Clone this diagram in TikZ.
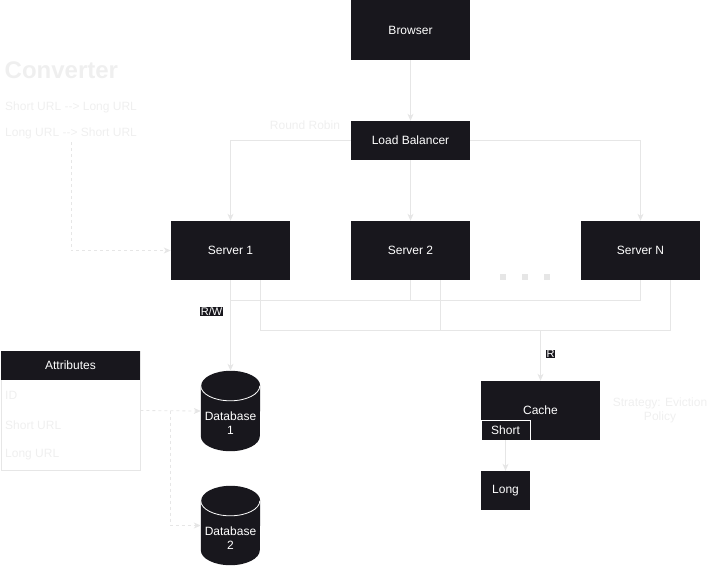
\documentclass[tikz,border=0pt]{standalone}
\usepackage{fontspec}
\setmainfont{Liberation Sans}
\usetikzlibrary{arrows.meta}
\definecolor{dk}{HTML}{18171D}
\definecolor{ln}{HTML}{E6E6E6}
\definecolor{fa}{HTML}{EFEFEF}
\begin{document}
\begin{tikzpicture}[x=1pt,y=1pt,
  box/.style={fill=dk, text=white, font=\fontsize{12}{14}\selectfont, inner sep=0pt, align=center},
  faint/.style={text=fa, font=\fontsize{12}{14}\selectfont, inner sep=0pt, align=center},
  conn/.style={draw=ln, line width=0.8pt},
  edge/.style={conn, -{Stealth[length=7pt,width=6pt,inset=2pt]}},
  dedge/.style={edge, dash pattern=on 3pt off 3pt},
  lbl/.style={fill=dk, text=white, font=\fontsize{11}{12}\selectfont, inner sep=0.5pt},
  dbbox/.style={minimum width=59pt, inner sep=0pt},
  dbtext/.style={text=white, font=\fontsize{12}{14}\selectfont, align=center, inner sep=0pt}]
\useasboundingbox (0,0) rectangle (721,-566);

% main nodes
\node[box, minimum width=119pt, minimum height=60pt] (browser) at (410.5,-30) {Browser};
\node[box, minimum width=119pt, minimum height=39pt] (lb) at (410.5,-140.5) {Load Balancer};
\node[box, minimum width=119pt, minimum height=59pt] (s1) at (230.5,-250.5) {Server 1};
\node[box, minimum width=119pt, minimum height=59pt] (s2) at (410.5,-250.5) {Server 2};
\node[box, minimum width=119pt, minimum height=59pt] (sn) at (640.5,-250.5) {Server N};
\node[box, minimum width=119pt, minimum height=59pt] (cache) at (540.5,-410.5) {Cache};
\node[box, draw=white, line width=0.8pt, minimum width=49pt, minimum height=20pt] (short) at (505.5,-430) {Short};
\node[box, minimum width=49pt, minimum height=39pt] (long) at (505.5,-490.5) {Long};

% ellipsis squares
\fill[ln] (500,-274) rectangle ++(6,-6);
\fill[ln] (522,-274) rectangle ++(6,-6);
\fill[ln] (544,-274) rectangle ++(6,-6);

% databases
\node[dbbox, minimum height=80pt] (db1) at (230.5,-411) {};
\node[dbbox, minimum height=79pt] (db2) at (230.5,-525.5) {};
\foreach \d in {db1,db2}{
  \fill[dk] ([yshift=-15pt]\d.north west) -- ([yshift=15pt]\d.south west)
    arc[start angle=180,end angle=360,x radius=29.5,y radius=15]
    -- ([yshift=-15pt]\d.north east)
    arc[start angle=0,end angle=180,x radius=29.5,y radius=15] -- cycle;
  \draw[white, line width=0.8pt] ([yshift=-15pt]\d.north west)
    arc[start angle=180,end angle=360,x radius=29.5,y radius=15];
}
\node[dbtext] (db1t) at (230.5,-423) {Database\\1};
\node[dbtext] (db2t) at (230.5,-538.5) {Database\\2};

% attributes table
\node[draw=ln, line width=0.8pt, minimum width=139pt, minimum height=119pt, inner sep=0pt] (attr) at (70.5,-410.5) {};
\node[box, minimum width=139pt, minimum height=29pt] (attrh) at (70.5,-365.5) {Attributes};
\node[faint, anchor=west] (aid) at (5,-395) {ID};
\node[faint, anchor=west] (ashort) at (5,-425) {Short URL};
\node[faint, anchor=west] (along) at (5,-455) {Long URL};

% converter texts
\node[faint, anchor=west, font=\bfseries\fontsize{24}{28}\selectfont] (conv) at (4.5,-70) {Converter};
\node[faint, anchor=west] (conv1) at (5,-107) {Short URL -{}-> Long URL};
\node[faint, anchor=west] (conv2) at (5,-133) {Long URL -{}-> Short URL};
\node[faint] (rr) at (305,-125) {Round Robin};
\node[faint] (strat) at (660,-410) {Strategy: Eviction\\Policy};

% connectors
\draw[edge] (browser.south) -- (lb.north);
\draw[edge] (lb.west) -| (s1.north);
\draw[edge] (lb.south) -- (s2.north);
\draw[edge] (lb.east) -| (sn.north);

\coordinate (j1) at (230.5,-300);
\draw[conn] (sn.south) |- (j1);
\draw[conn] (s2.south) -- (s2.south |- j1);
\draw[edge] (s1.south) -- (db1.north);
\node[lbl] (rw) at (211.5,-311.5) {R/W};

\coordinate (j2) at (540.5,-330);
\draw[conn] ([xshift=29.5pt]s1.south) |- ([xshift=29.5pt]sn.south |- j2) -- ([xshift=29.5pt]sn.south);
\draw[conn] ([xshift=29.5pt]s2.south) -- ([xshift=29.5pt]s2.south |- j2);
\draw[edge] (j2) -- (cache.north);
\node[lbl] (rlab) at (550.5,-354) {R};

\draw[edge] (short.south) -- (long.north);

\coordinate (k) at (170.5,-410.5);
\draw[dedge] (attr.east) -- (db1.west);
\draw[dedge] (k) |- (db2.west);
\draw[dedge] ([yshift=-3pt]conv2.south) |- (s1.west);
\end{tikzpicture}
\end{document}
